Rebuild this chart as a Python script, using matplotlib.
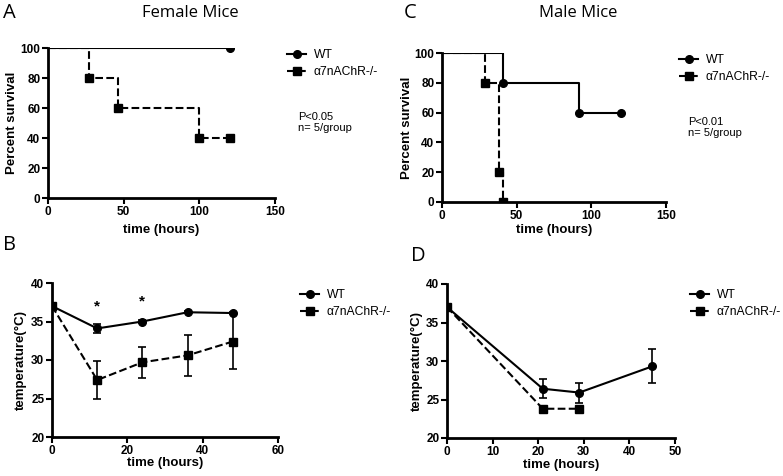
import matplotlib.pyplot as plt
from matplotlib.lines import Line2D

plt.rcParams["font.family"] = ["Liberation Sans", "DejaVu Sans"]

# --- data ---
# Female survival (panel A)
fA_wt_t = [0, 120]
fA_wt_s = [100, 100]
fA_ko_t = [0, 27, 46, 100, 120]
fA_ko_s = [100, 80, 60, 40, 40]

# Male survival (panel C)
mC_wt_t = [0, 41, 92, 120]
mC_wt_s = [100, 80, 60, 60]
mC_ko_t = [0, 29, 38, 41]
mC_ko_s = [100, 80, 20, 0]

# Female temperature (panel B)
fB_t = [0, 12, 24, 36, 48]
fB_wt = [37.0, 34.1, 35.0, 36.2, 36.1]
fB_wt_err = [0, 0.6, 0.2, 0.15, 0.15]
fB_ko = [37.0, 27.4, 29.7, 30.6, 32.4]
fB_ko_err = [0, 2.45, 2.05, 2.65, 3.6]
star_t = [12, 24]
star_y = [36.0, 36.7]

# Male temperature (panel D)
mD_wt_t = [0, 21, 29, 45]
mD_wt = [37.0, 26.4, 25.9, 29.3]
mD_wt_err = [0, 1.2, 1.3, 2.2]
mD_ko_t = [0, 21, 29]
mD_ko = [37.0, 23.8, 23.8]

labels = ["WT", "α7nAChR-/-"]

W, H = 783, 476
fig = plt.figure(figsize=(W / 100, H / 100), dpi=100)


def px_axes(x0, y0, x1, y1):
    ax = fig.add_axes([x0 / W, 1 - y1 / H, (x1 - x0) / W, (y1 - y0) / H])
    ax.px = (x0, y0, x1, y1)
    return ax


def style(ax, xlim, xticks, ylim, yticks, ylabel, ylab_x, xlab_y):
    x0, y0, x1, y1 = ax.px
    for s in ["top", "right"]:
        ax.spines[s].set_visible(False)
    for s in ["left", "bottom"]:
        ax.spines[s].set_linewidth(2)
    ax.set_xlim(*xlim)
    ax.set_ylim(*ylim)
    ax.set_xticks(xticks)
    ax.set_yticks(yticks)
    ax.tick_params(width=1.5, length=4, labelsize=8.5, pad=1.5)
    for lab in ax.get_xticklabels() + ax.get_yticklabels():
        lab.set_fontweight("bold")
    ax.set_xlabel("time (hours)", fontsize=9.5, fontweight="bold")
    ax.set_ylabel(ylabel, fontsize=9.5, fontweight="bold")
    # label centres given in figure pixels
    ax.yaxis.set_label_coords((ylab_x - x0) / (x1 - x0), 0.5)
    ax.xaxis.set_label_coords(0.5, -(xlab_y - y1) / (y1 - y0))
    ax.xaxis.label.set_va("center")
    ax.yaxis.label.set_va("center")
    ax.patch.set_alpha(0)


kw_wt = dict(color="black", lw=1.5, marker="o", ms=5.5)
kw_ko = dict(color="black", lw=1.5, ls="--", marker="s", ms=5.5)
handles = [Line2D([], [], **kw_wt), Line2D([], [], **kw_ko)]


def add_legend(ax, x_px, top_px):
    ax.legend(handles, labels, loc="upper left",
              bbox_to_anchor=(x_px / W, 1 - top_px / H),
              bbox_transform=fig.transFigure,
              frameon=False, fontsize=8.7, handlelength=1.6,
              handletextpad=0.6, labelspacing=0.45, borderaxespad=0,
              borderpad=0)


def add_pnote(text, x_px, top_px):
    fig.text(x_px / W, 1 - top_px / H, text, fontsize=8, va="top",
             linespacing=1.1)


# --- Panel A ---
axA = px_axes(48, 48, 275, 198)
axA.step(fA_wt_t, fA_wt_s, where="post", color="black", lw=1.5)
axA.plot(fA_wt_t[1:], fA_wt_s[1:], "o", color="black", ms=5.5)
axA.step(fA_ko_t, fA_ko_s, where="post", color="black", lw=1.5, ls="--")
axA.plot(fA_ko_t[1:], fA_ko_s[1:], "s", color="black", ms=5.5)
style(axA, (0, 150), [0, 50, 100, 150], (0, 100), [0, 20, 40, 60, 80, 100],
      "Percent survival", 12, 230)
add_legend(axA, 287, 49)
add_pnote("P<0.05\nn= 5/group", 298, 112)

# --- Panel C ---
axC = px_axes(442, 53, 666, 202)
axC.step(mC_wt_t, mC_wt_s, where="post", color="black", lw=1.5)
axC.plot(mC_wt_t[1:], mC_wt_s[1:], "o", color="black", ms=5.5)
axC.step(mC_ko_t, mC_ko_s, where="post", color="black", lw=1.5, ls="--")
axC.plot(mC_ko_t[1:], mC_ko_s[1:], "s", color="black", ms=5.5)
style(axC, (0, 150), [0, 50, 100, 150], (0, 100), [0, 20, 40, 60, 80, 100],
      "Percent survival", 407, 230)
add_legend(axC, 679, 54)
add_pnote("P<0.01\nn= 5/group", 688, 117)

# --- Panel B ---
axB = px_axes(52, 283, 278, 437)
axB.errorbar(fB_t, fB_wt, yerr=fB_wt_err, capsize=3, elinewidth=1.2,
             capthick=1.2, **kw_wt)
axB.errorbar(fB_t, fB_ko, yerr=fB_ko_err, capsize=3, elinewidth=1.2,
             capthick=1.2, **kw_ko)
for t, y in zip(star_t, star_y):
    axB.text(t, y, "*", ha="center", va="bottom", fontsize=11,
             fontweight="bold")
style(axB, (0, 60), [0, 20, 40, 60], (20, 40), [20, 25, 30, 35, 40],
      "temperature(°C)", 21, 463)
add_legend(axB, 300, 289)

# --- Panel D ---
axD = px_axes(447, 284, 675, 438)
axD.errorbar(mD_wt_t, mD_wt, yerr=mD_wt_err, capsize=3, elinewidth=1.2,
             capthick=1.2, **kw_wt)
axD.plot(mD_ko_t, mD_ko, **kw_ko)
style(axD, (0, 50), [0, 10, 20, 30, 40, 50], (20, 40), [20, 25, 30, 35, 40],
      "temperature(°C)", 417, 465)
add_legend(axD, 690, 289)

# --- panel letters and titles ---
tk = dict(fontsize=14.5, family=["Open Sans", "DejaVu Sans"], va="center")
fig.text(3 / W, 1 - 13 / H, "A", **tk)
fig.text(404 / W, 1 - 13 / H, "C", **tk)
fig.text(3 / W, 1 - 245 / H, "B", **tk)
fig.text(411 / W, 1 - 256 / H, "D", **tk)
ttl = dict(fontsize=12, family=["Open Sans", "DejaVu Sans"], ha="center",
           va="center")
fig.text(190 / W, 1 - 13 / H, "Female Mice", **ttl)
fig.text(578 / W, 1 - 13 / H, "Male Mice", **ttl)

fig.savefig("out.png", dpi=100)
